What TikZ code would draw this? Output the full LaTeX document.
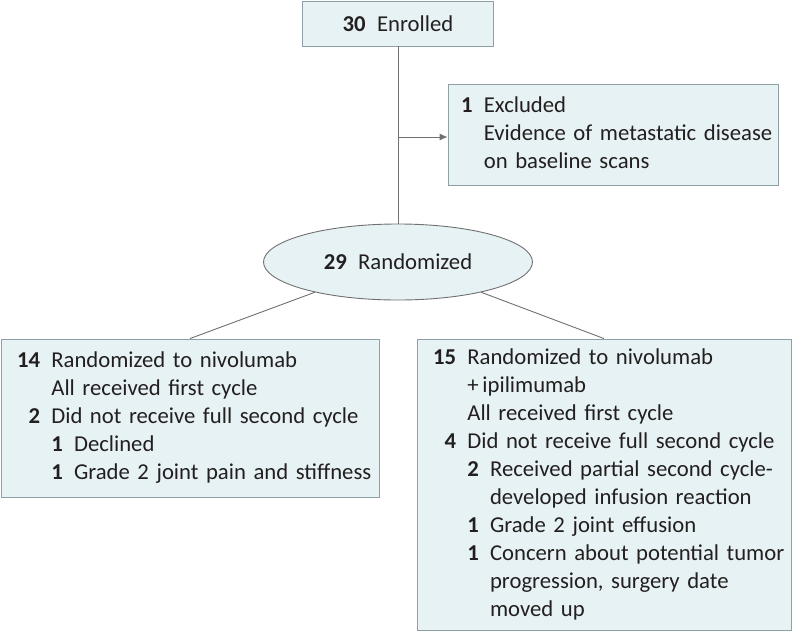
\documentclass[tikz,border=0pt]{standalone}
\usepackage{fontspec}
\setmainfont{Carlito}
\usepackage{tikz}
\usetikzlibrary{shapes,arrows.meta,positioning,fit}

\definecolor{BoxFill}{RGB}{231,242,244}
\definecolor{BoxLine}{RGB}{140,160,166}
\definecolor{LinkGray}{RGB}{112,112,112}
\definecolor{TextDark}{RGB}{35,31,32}

\newcommand{\cnt}[1]{\textbf{#1}}
\newcommand{\subcnt}[2]{\makebox[1em][l]{\cnt{#1}}#2}

\begin{document}
\begin{tikzpicture}[x=1pt, y=-1pt]
		\tikzstyle{Base}	= [font=\fontsize{22.7}{28}\selectfont, text=TextDark]
		\tikzstyle{Box}		= [Base, rectangle, draw=BoxLine, fill=BoxFill, line width=0.9pt, inner xsep=16pt, inner ysep=0pt, align=left]
		\tikzstyle{Oval}	= [Base, ellipse, draw=LinkGray, fill=BoxFill, line width=0.9pt, inner sep=0pt]
		\tikzstyle{Link}	= [LinkGray, line width=0.9pt]
		\tikzstyle{Tip}		= [-{Latex[length=8pt, width=7pt]}]

		\useasboundingbox (0,0) rectangle (794,632);

		\node (enrol) at (398, 23.5) [Box, align=center, minimum width=191pt, minimum height=45pt] {\cnt{30}\hspace{0.5em}Enrolled};
		\node (excl) at (613, 134.5) [Box, inner xsep=13pt, text width=304pt, minimum height=101pt] {%
			\begin{tabular}{@{}r@{\hspace{0.5em}}l@{}}
			\cnt{1} & Excluded\\
			 & Evidence of metastatic disease\\
			 & on baseline scans
			\end{tabular}};
		\node (rand) at (398, 262) [Oval, minimum width=269pt, minimum height=76pt] {\cnt{29}\hspace{0.5em}Randomized};
		\node (nivo) at (190, 418) [Box, text width=346pt, minimum height=158pt] {%
			\begin{tabular}{@{}r@{\hspace{0.5em}}l@{}}
			\cnt{14} & Randomized to nivolumab\\
			 & All received first cycle\\
			\cnt{2} & Did not receive full second cycle\\
			 & \subcnt{1}{Declined}\\
			 & \subcnt{1}{Grade 2 joint pain and stiffness}
			\end{tabular}};
		\node (combo) at (604, 484.5) [Box, text width=342pt, minimum height=291pt] {%
			\begin{tabular}{@{}r@{\hspace{0.5em}}l@{}}
			\cnt{15} & Randomized to nivolumab\\
			 & +\,ipilimumab\\
			 & All received first cycle\\
			\cnt{4} & Did not receive full second cycle\\
			 & \subcnt{2}{Received partial second cycle-}\\
			 & \subcnt{}{developed infusion reaction}\\
			 & \subcnt{1}{Grade 2 joint effusion}\\
			 & \subcnt{1}{Concern about potential tumor}\\
			 & \subcnt{}{progression, surgery date}\\
			 & \subcnt{}{moved up}
			\end{tabular}};

		\coordinate (split) at (398, 137);

		\draw (enrol) to (rand) [Link];
		\draw (split) to (split -| excl.west) [Link, Tip];
		\draw (rand.200) to (nivo.north) [Link];
		\draw (rand.340) to (combo.north) [Link];
\end{tikzpicture}
\end{document}
